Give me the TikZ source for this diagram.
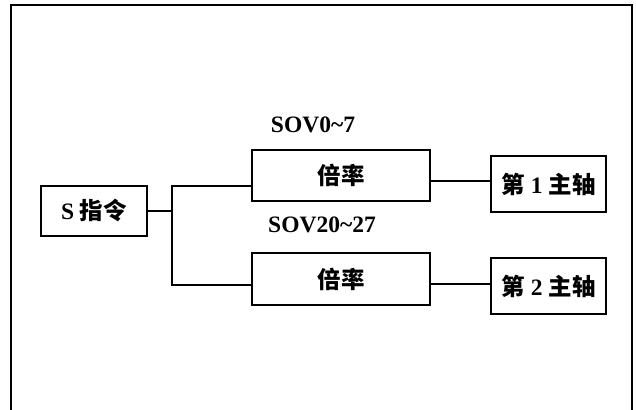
\documentclass[tikz,border=0pt]{standalone}
\usepackage{fontspec}
\setmainfont{Liberation Serif}
\newfontfamily\cjk{Noto Sans CJK SC}
\tikzset{
  blk/.style={draw, line width=1.3pt, inner sep=0pt, font=\fontsize{23.5}{26}\selectfont\bfseries},
  lnk/.style={line width=1.3pt},
  tag/.style={font=\fontsize{23.5}{26}\selectfont\bfseries}
}
\begin{document}
\begin{tikzpicture}[x=1pt, y=-1pt]
\clip (0,0) rectangle (636,409);
% Rahmen, unten offen
\draw[line width=1.6pt] (11,415) -- (11,5) -- (632,5) -- (632,415);
% Bloecke
\node[blk, minimum width=106pt, minimum height=50pt] (cmd) at (94,211) {S {\cjk 指令}};
\node[blk, minimum width=178pt, minimum height=51pt] (rateA) at (341,175.5) {\cjk 倍率};
\node[blk, minimum width=178pt, minimum height=52pt] (rateB) at (341,279) {\cjk 倍率};
\node[blk, minimum width=115pt, minimum height=56pt] (spinA) at (548.5,184) {{\cjk 第} 1 {\cjk 主轴}};
\node[blk, minimum width=115pt, minimum height=56pt] (spinB) at (548.5,286) {{\cjk 第} 2 {\cjk 主轴}};
% Signalnamen
\node[tag] (sovA) at (313,125) {SOV0\char`~7};
\node[tag] (sovB) at (322,225) {SOV20\char`~27};
% Verzweigung
\coordinate (split) at (172,211);
\coordinate (inA) at (252,186);
\coordinate (inB) at (252,285);
\draw[lnk] (cmd.east) -- (split);
\draw[lnk] (inA) -| (split) |- (inB);
% Ausgaenge
\draw[lnk] ([yshift=-5.5pt]rateA.east) -- ([yshift=3pt]spinA.west);
\draw[lnk] ([yshift=-5pt]rateB.east) -- ([yshift=2pt]spinB.west);
\end{tikzpicture}
\end{document}
